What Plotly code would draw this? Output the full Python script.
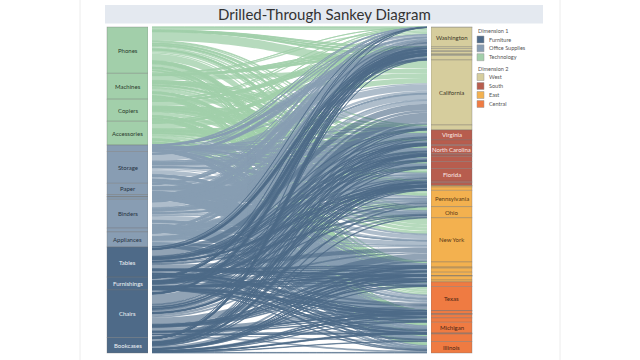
import plotly.graph_objects as go

# ---------------- data (sales in $k, read/estimated from the picture) ----------------
categories = ["Technology", "Office Supplies", "Furniture"]
sub_categories = ["Phones", "Machines", "Copiers", "Accessories",
                  "Supplies", "Storage", "Paper", "Labels", "Fasteners", "Envelopes",
                  "Binders", "Art", "Appliances",
                  "Tables", "Furnishings", "Chairs", "Bookcases"]
sub_category_parent = (["Technology"] * 4 + ["Office Supplies"] * 9 + ["Furniture"] * 4)

regions = ["West", "South", "East", "Central"]

west_states = ["Wyoming", "Washington", "Utah", "Oregon", "New Mexico", "Nevada",
               "Montana", "Idaho", "Colorado", "California", "Arizona"]
south_states = ["Virginia", "Tennessee", "South Carolina", "North Carolina", "Mississippi",
                "Louisiana", "Kentucky", "Georgia", "Florida", "Arkansas", "Alabama"]
east_states = ["West Virginia", "Vermont", "Rhode Island", "Pennsylvania", "Ohio", "New York",
               "New Jersey", "New Hampshire", "Massachusetts", "Maryland", "Maine",
               "District of Columbia", "Delaware", "Connecticut"]
central_states = ["Wisconsin", "Texas", "South Dakota", "Oklahoma", "North Dakota", "Nebraska",
                  "Missouri", "Minnesota", "Michigan", "Kansas", "Iowa", "Indiana", "Illinois"]

# one row per state, one value per sub-category (same order as sub_categories)
west_sales = [
    [0.23, 0.13, 0.10, 0.12, 0.03, 0.16, 0.06, 0.01, 0, 0.01, 0.14, 0.02, 0.07, 0.14, 0.06, 0.23, 0.08],
    [21, 10, 10, 9, 3, 13, 5, 0.7, 0.2, 1, 13, 1.6, 6, 12, 6, 20, 7],
    [1.6, 0.9, 0.7, 0.8, 0.23, 1.1, 0.4, 0.06, 0.01, 0.08, 1.0, 0.13, 0.5, 1.0, 0.45, 1.6, 0.55],
    [2.5, 1.4, 1.1, 1.3, 0.4, 1.7, 0.6, 0.09, 0.02, 0.12, 1.5, 0.2, 0.8, 1.6, 0.7, 2.5, 0.9],
    [0.69, 0.4, 0.31, 0.35, 0.1, 0.47, 0.17, 0.02, 0.01, 0.03, 0.42, 0.06, 0.22, 0.43, 0.19, 0.69, 0.24],
    [2.4, 1.4, 1.1, 1.2, 0.3, 1.6, 0.6, 0.09, 0.02, 0.12, 1.5, 0.2, 0.8, 1.5, 0.7, 2.4, 0.8],
    [0.8, 0.46, 0.37, 0.41, 0.11, 0.55, 0.19, 0.03, 0.01, 0.04, 0.5, 0.07, 0.26, 0.5, 0.22, 0.8, 0.28],
    [0.63, 0.36, 0.29, 0.32, 0.09, 0.43, 0.15, 0.02, 0.01, 0.03, 0.39, 0.05, 0.2, 0.4, 0.18, 0.63, 0.22],
    [4.2, 3.0, 2.0, 2.4, 0.7, 3.1, 1.1, 0.2, 0.04, 0.2, 2.8, 0.4, 1.5, 3.1, 1.3, 4.4, 1.6],
    [62, 32, 33, 37, 8, 45, 17, 2.4, 0.6, 3.5, 39, 5.5, 23, 45, 17, 69, 19],
    [5.1, 2.9, 2.3, 2.6, 0.7, 3.4, 1.2, 0.2, 0.05, 0.2, 3.1, 0.4, 1.6, 3.2, 1.4, 5.0, 1.8],
]
south_sales = [
    [10, 6, 4.5, 5, 1.4, 7, 2.4, 0.4, 0.1, 0.5, 6, 0.8, 3.3, 6.5, 2.8, 10, 3.5],
    [4.4, 2.5, 2.0, 2.2, 0.6, 3.0, 1.1, 0.2, 0.04, 0.2, 2.7, 0.4, 1.4, 2.8, 1.2, 4.4, 1.5],
    [1.22, 0.7, 0.56, 0.62, 0.17, 0.83, 0.29, 0.04, 0.01, 0.06, 0.75, 0.1, 0.4, 0.77, 0.34, 1.21, 0.43],
    [8, 4.5, 3.7, 4, 1.1, 5.4, 1.9, 0.3, 0.1, 0.4, 5, 0.7, 2.6, 5, 2.2, 8, 2.8],
    [1.55, 0.9, 0.7, 0.8, 0.22, 1.05, 0.37, 0.06, 0.01, 0.08, 0.95, 0.13, 0.5, 1.0, 0.43, 1.54, 0.54],
    [1.3, 0.76, 0.6, 0.67, 0.19, 0.9, 0.32, 0.05, 0.01, 0.06, 0.81, 0.11, 0.43, 0.83, 0.37, 1.31, 0.46],
    [5.3, 3.0, 2.4, 2.7, 0.8, 3.6, 1.3, 0.2, 0.05, 0.3, 3.2, 0.4, 1.7, 3.3, 1.5, 5.2, 1.8],
    [7.1, 4.0, 3.2, 3.6, 1.0, 4.8, 1.7, 0.3, 0.1, 0.3, 4.3, 0.6, 2.3, 4.4, 2.0, 7.0, 2.5],
    [13, 8, 5, 6.5, 1.8, 9, 3, 0.5, 0.1, 0.6, 8, 1, 4, 8, 3.5, 13, 4.5],
    [1.7, 1.0, 0.8, 0.8, 0.24, 1.1, 0.4, 0.06, 0.02, 0.08, 1.0, 0.14, 0.5, 1.1, 0.5, 1.7, 0.6],
    [2.9, 1.5, 1.3, 1.4, 0.4, 1.9, 0.7, 0.1, 0.03, 0.14, 1.7, 0.2, 0.9, 1.7, 0.8, 2.9, 0.9],
]
east_sales = [
    [0.17, 0.1, 0.08, 0.09, 0.02, 0.12, 0.04, 0.01, 0, 0.01, 0.11, 0.01, 0.06, 0.11, 0.05, 0.17, 0.06],
    [1.3, 0.74, 0.59, 0.65, 0.18, 0.88, 0.31, 0.05, 0.01, 0.06, 0.8, 0.11, 0.42, 0.81, 0.36, 1.29, 0.45],
    [3.2, 1.9, 1.5, 1.6, 0.5, 2.2, 0.8, 0.12, 0.03, 0.16, 2.0, 0.3, 1.1, 2.0, 0.9, 3.2, 1.1],
    [15, 11, 7, 9, 2.4, 12, 4, 0.6, 0.15, 0.8, 10, 1.4, 5.5, 10, 5, 17, 5.5],
    [10, 7, 5, 6, 1.6, 7.5, 2.7, 0.4, 0.1, 0.5, 7, 0.9, 3.6, 7, 3, 12, 3.9],
    [47, 22, 24, 21, 6, 29, 11, 1.6, 0.4, 2.2, 30, 3.5, 13, 29, 12, 44, 15],
    [5.1, 2.9, 2.3, 2.6, 0.7, 3.5, 1.2, 0.2, 0.05, 0.3, 3.2, 0.4, 1.7, 3.2, 1.4, 5.1, 1.8],
    [1.05, 0.6, 0.48, 0.53, 0.15, 0.71, 0.25, 0.04, 0.01, 0.05, 0.65, 0.09, 0.34, 0.66, 0.29, 1.04, 0.37],
    [4.1, 2.4, 1.9, 2.1, 0.6, 2.8, 1.0, 0.15, 0.04, 0.2, 2.5, 0.3, 1.3, 2.6, 1.1, 4.1, 1.4],
    [3.4, 2.0, 1.5, 1.7, 0.5, 2.3, 0.8, 0.12, 0.03, 0.17, 2.1, 0.3, 1.1, 2.1, 1.0, 3.4, 1.2],
    [0.19, 0.11, 0.08, 0.09, 0.03, 0.13, 0.04, 0.01, 0, 0.01, 0.11, 0.02, 0.06, 0.12, 0.05, 0.19, 0.07],
    [0.42, 0.24, 0.19, 0.21, 0.06, 0.28, 0.1, 0.02, 0, 0.02, 0.26, 0.03, 0.14, 0.26, 0.12, 0.41, 0.15],
    [4.0, 2.3, 1.8, 2.0, 0.6, 2.7, 0.9, 0.14, 0.04, 0.2, 2.4, 0.3, 1.3, 2.5, 1.1, 3.9, 1.4],
    [1.9, 1.1, 0.9, 1.0, 0.3, 1.3, 0.5, 0.07, 0.02, 0.09, 1.2, 0.16, 0.6, 1.2, 0.5, 1.9, 0.7],
]
central_sales = [
    [4.6, 2.6, 2.1, 2.3, 0.7, 3.1, 1.1, 0.2, 0.04, 0.2, 2.8, 0.4, 1.5, 2.9, 1.3, 4.6, 1.6],
    [23, 16, 10, 12, 3.5, 17, 6, 0.9, 0.2, 1.2, 14, 2, 8, 16, 7, 25, 8],
    [0.19, 0.11, 0.08, 0.09, 0.03, 0.13, 0.04, 0.01, 0, 0.01, 0.11, 0.02, 0.06, 0.12, 0.05, 0.19, 0.07],
    [2.8, 1.6, 1.3, 1.4, 0.4, 1.9, 0.7, 0.1, 0.03, 0.14, 1.7, 0.2, 0.9, 1.8, 0.8, 2.8, 1.0],
    [0.13, 0.07, 0.06, 0.07, 0.02, 0.09, 0.03, 0, 0, 0.01, 0.08, 0.01, 0.04, 0.08, 0.04, 0.13, 0.05],
    [1.08, 0.62, 0.49, 0.55, 0.15, 0.73, 0.26, 0.04, 0.01, 0.05, 0.66, 0.09, 0.35, 0.68, 0.3, 1.07, 0.38],
    [3.2, 1.8, 1.4, 1.6, 0.5, 2.2, 0.8, 0.12, 0.03, 0.16, 2.0, 0.3, 1.0, 2.0, 0.9, 3.2, 1.1],
    [4.3, 2.5, 2.0, 2.2, 0.6, 2.9, 1.0, 0.2, 0.04, 0.2, 2.6, 0.4, 1.4, 2.7, 1.2, 4.3, 1.5],
    [11, 6, 5, 5.5, 1.6, 7, 2.6, 0.4, 0.1, 0.5, 7, 0.9, 3.6, 7, 3, 11, 4],
    [0.42, 0.24, 0.19, 0.21, 0.06, 0.28, 0.1, 0.02, 0, 0.02, 0.26, 0.03, 0.14, 0.26, 0.12, 0.41, 0.15],
    [0.66, 0.38, 0.3, 0.33, 0.09, 0.45, 0.16, 0.02, 0.01, 0.03, 0.41, 0.05, 0.21, 0.41, 0.18, 0.66, 0.23],
    [7.7, 4.4, 3.5, 3.9, 1.1, 5.2, 1.8, 0.3, 0.1, 0.4, 4.7, 0.6, 2.5, 4.8, 2.1, 7.7, 2.7],
    [12, 6, 5.5, 5.5, 1.6, 8, 2.8, 0.4, 0.1, 0.6, 7, 0.9, 3.5, 7, 3.2, 12, 4],
]

labeled_sub_categories = ["Phones", "Machines", "Copiers", "Accessories", "Storage", "Paper",
                          "Binders", "Appliances", "Tables", "Furnishings", "Chairs", "Bookcases"]
labeled_states = ["Washington", "California", "Virginia", "North Carolina", "Florida",
                  "Pennsylvania", "Ohio", "New York", "Texas", "Michigan", "Illinois"]

# ---------------- styling ----------------
cat_color = {"Furniture": "#4e6a88", "Office Supplies": "#889db3", "Technology": "#a2cfaa"}
cat_link = {"Furniture": "rgba(78,106,136,0.62)", "Office Supplies": "rgba(136,157,179,0.68)",
            "Technology": "rgba(162,207,170,0.78)"}
cat_text = {"Furniture": "#eef2f6", "Office Supplies": "#26323f", "Technology": "#2a3a2c"}
reg_color = {"West": "#d6cd9d", "South": "#b75d4e", "East": "#f3b14f", "Central": "#ef7b42"}
reg_text = {"West": "#3a3525", "South": "#fbeae6", "East": "#5a3a18", "Central": "#4a2414"}

FONT = "Lato, 'Open Sans', sans-serif"
W, H = 640, 360


def fx(px):                 # window pixel -> paper x
    return px / W


def fy(py):                 # window pixel -> paper y
    return 1 - py / H


X0, X1, Y0, Y1 = 107, 472, 27, 353     # sankey box in pixels
THICK = 41

# ---------------- build sankey ----------------
state_names, state_region, state_rows = [], [], []
for reg, names, rows in zip(regions, [west_states, south_states, east_states, central_states],
                            [west_sales, south_sales, east_sales, central_sales]):
    for n, r in zip(names, rows):
        state_names.append(n)
        state_region.append(reg)
        state_rows.append(r)

nS = len(sub_categories)
sub_tot = [sum(r[i] for r in state_rows) for i in range(nS)]
state_tot = [sum(r) for r in state_rows]
total = sum(state_tot)

src, tgt, val, lcol = [], [], [], []
for i in range(nS):
    for j, r in enumerate(state_rows):
        if r[i] > 0:
            src.append(i)
            tgt.append(nS + j)
            val.append(r[i])
            lcol.append(cat_link[sub_category_parent[i]])


def centers(vals):
    out, c = [], 0.0
    for v in vals:
        out.append((c + v / 2) / total)
        c += v
    return out


left_c = centers(sub_tot)
right_c = centers(state_tot)
bw = X1 - X0
node_x = [(THICK / 2) / bw] * nS + [1 - (THICK / 2) / bw] * len(state_names)
node_y = left_c + right_c
node_col = [cat_color[p] for p in sub_category_parent] + [reg_color[r] for r in state_region]

fig = go.Figure(go.Sankey(
    domain=dict(x=[fx(X0), fx(X1)], y=[fy(Y1), fy(Y0)]),
    arrangement="fixed",
    node=dict(label=[""] * (nS + len(state_names)), x=node_x, y=node_y, pad=0,
              thickness=THICK, color=node_col,
              customdata=sub_categories + state_names,
              hovertemplate="%{customdata}: %{value:.1f}k<extra></extra>",
              line=dict(color="rgba(110,110,110,0.55)", width=0.6)),
    link=dict(source=src, target=tgt, value=val, color=lcol,
              line=dict(width=0)),
))

shapes, annotations = [], []


def label(x, y, text, size, color, xanchor="center"):
    annotations.append(dict(x=x, y=y, xref="paper", yref="paper", text=text, showarrow=False,
                            xanchor=xanchor, yanchor="middle",
                            font=dict(family=FONT, size=size, color=color)))


# node labels inside nodes
for i, name in enumerate(sub_categories):
    if name in labeled_sub_categories:
        ypx = Y0 + left_c[i] * (Y1 - Y0)
        label(fx(X0 + THICK / 2), fy(ypx), name, 6, cat_text[sub_category_parent[i]])
for j, name in enumerate(state_names):
    if name in labeled_states:
        ypx = Y0 + right_c[j] * (Y1 - Y0)
        label(fx(X1 - THICK / 2), fy(ypx), name, 6, reg_text[state_region[j]])

# gaps between node columns and ribbons
for gx0, gx1 in [(X0 + THICK, X0 + THICK + 4), (X1 - THICK - 4, X1 - THICK)]:
    shapes.append(dict(type="rect", xref="paper", yref="paper", x0=fx(gx0), x1=fx(gx1),
                       y0=fy(Y1 + 1), y1=fy(Y0 - 1), fillcolor="white",
                       line=dict(width=0), layer="above"))

# title bar
shapes.append(dict(type="rect", xref="paper", yref="paper", x0=fx(105), x1=fx(543),
                   y0=fy(23.5), y1=fy(5), fillcolor="#e4e9f0", line=dict(width=0),
                   layer="below"))
label(fx(324), fy(14.5), "Drilled-Through Sankey Diagram", 15, "#333333")


# legends
def legend_block(title, items, colors, ytitle, ys):
    label(fx(475.5), fy(ytitle), title, 5.5, "#555555", xanchor="left")
    for it, c, yy in zip(items, colors, ys):
        shapes.append(dict(type="rect", xref="paper", yref="paper",
                           x0=fx(477), x1=fx(484), y0=fy(yy + 3.5), y1=fy(yy - 3.5),
                           fillcolor=c, line=dict(color="#999999", width=0.5), layer="above"))
        label(fx(486.5), fy(yy), it, 5.5, "#555555", xanchor="left")


legend_block("Dimension 1", ["Furniture", "Office Supplies", "Technology"],
             [cat_color[c] for c in ["Furniture", "Office Supplies", "Technology"]],
             30.5, [39.5, 48.3, 57.2])
legend_block("Dimension 2", regions, [reg_color[r] for r in regions],
             68.5, [77, 86, 95, 104])

# faint dashboard edges
for ex in [80, 560]:
    shapes.append(dict(type="line", xref="paper", yref="paper", x0=fx(ex), x1=fx(ex),
                       y0=0, y1=1, line=dict(color="#ececec", width=1), layer="below"))

fig.update_layout(width=W, height=H, margin=dict(l=0, r=0, t=0, b=0),
                  paper_bgcolor="white", plot_bgcolor="white",
                  font=dict(family=FONT), shapes=shapes, annotations=annotations,
                  showlegend=False)

# remove the default 8px page margin so the 640x360 figure fills the window exactly
fig.write_html("out.html", config={"displayModeBar": False},
               post_script="document.body.style.margin='0';")
